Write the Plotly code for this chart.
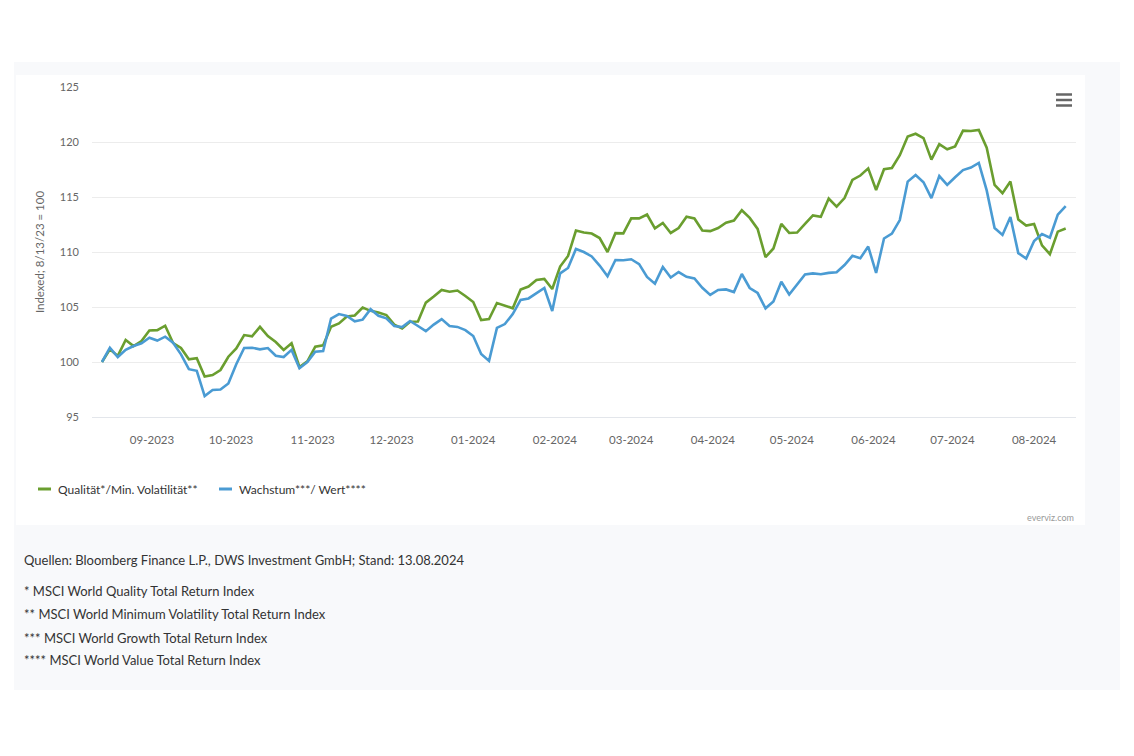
import plotly.graph_objects as go
import pandas as pd

# ---- data ----
dates = pd.date_range("2023-08-13", "2024-08-13", freq="3D")

quality_minvol = [
    100.0, 101.15, 100.55, 102.0, 101.45, 101.9, 102.86, 102.9, 103.3, 101.73,
    101.27, 100.25, 100.34, 98.68, 98.82, 99.27, 100.48, 101.23, 102.45, 102.34,
    103.2, 102.36, 101.82, 101.09, 101.7, 99.55, 100.06, 101.4, 101.52, 103.2,
    103.5, 104.13, 104.23, 104.95, 104.65, 104.5, 104.27, 103.4, 103.05, 103.66,
    103.68, 105.4, 105.95, 106.55, 106.39, 106.5, 106.0, 105.45, 103.82, 103.9,
    105.36, 105.12, 104.88, 106.59, 106.86, 107.45, 107.55, 106.64, 108.68, 109.64,
    111.95, 111.77, 111.68, 111.27, 110.0, 111.71, 111.69, 113.06, 113.06, 113.41,
    112.15, 112.64, 111.73, 112.18, 113.21, 113.05, 111.95, 111.9, 112.18, 112.66,
    112.86, 113.8, 113.1, 112.1, 109.53, 110.32, 112.55, 111.73, 111.77, 112.55,
    113.33, 113.21, 114.86, 114.12, 114.9, 116.55, 116.95, 117.6, 115.64, 117.52,
    117.64, 118.8, 120.5, 120.75, 120.36, 118.4, 119.8, 119.34, 119.6, 121.03,
    121.0, 121.1, 119.49, 116.1, 115.34, 116.4, 112.95, 112.4, 112.55, 110.6,
    109.8, 111.85, 112.14,
]

growth_value = [
    100.0, 101.3, 100.45, 101.1, 101.45, 101.7, 102.2, 101.95, 102.3, 101.75,
    100.7, 99.35, 99.2, 96.9, 97.45, 97.5, 98.05, 99.8, 101.27, 101.3,
    101.15, 101.27, 100.57, 100.45, 101.1, 99.43, 100.0, 100.94, 101.0, 103.95,
    104.36, 104.18, 103.7, 103.85, 104.8, 104.2, 103.97, 103.27, 103.18, 103.73,
    103.27, 102.8, 103.4, 103.9, 103.27, 103.19, 102.9, 102.36, 100.73, 100.1,
    103.1, 103.45, 104.36, 105.64, 105.78, 106.23, 106.73, 104.64, 108.06, 108.55,
    110.27, 110.0, 109.6, 108.77, 107.8, 109.27, 109.25, 109.34, 108.9, 107.73,
    107.12, 108.64, 107.68, 108.18, 107.75, 107.59, 106.75, 106.1, 106.55, 106.6,
    106.36, 108.0, 106.73, 106.27, 104.88, 105.5, 107.3, 106.14, 107.05, 107.95,
    108.06, 107.98, 108.1, 108.16, 108.82, 109.65, 109.43, 110.5, 108.1, 111.23,
    111.67, 112.9, 116.4, 117.0, 116.34, 114.9, 116.9, 116.1, 116.8, 117.45,
    117.68, 118.1, 115.6, 112.18, 111.55, 113.18, 109.9, 109.4, 111.0, 111.64,
    111.3, 113.4, 114.18,
]

series_names = ["Qualität*/Min. Volatilität**", "Wachstum***/ Wert****"]
series_colors = ["#6a9e2f", "#4a9bd3"]
y_title = "Indexed; 8/13/23 = 100"
footnotes = [
    "Quellen: Bloomberg Finance L.P., DWS Investment GmbH; Stand: 13.08.2024",
    "* MSCI World Quality Total Return Index",
    "** MSCI World Minimum Volatility Total Return Index",
    "*** MSCI World Growth Total Return Index",
    "**** MSCI World Value Total Return Index",
]
credit = "everviz.com"

# ---- layout geometry (pixels) ----
FIG_W, FIG_H = 1134, 756
L, R, T, B = 92, 1076, 87, 417
PW, PH = R - L, B - T
FONT = "Lato, Open Sans, sans-serif"


def px(x):
    return (x - L) / PW


def py(y):
    return (B - y) / PH


fig = go.Figure()
for name, vals, col in zip(series_names, [quality_minvol, growth_value], series_colors):
    fig.add_trace(go.Scatter(
        x=dates, y=vals, name=name, mode="lines",
        line=dict(color=col, width=2.6), showlegend=False,
    ))

shapes = [
    dict(type="rect", xref="paper", yref="paper", x0=px(14), x1=px(1120),
         y0=py(690), y1=py(62), fillcolor="#f8f9fb", line=dict(width=0), layer="below"),
    dict(type="rect", xref="paper", yref="paper", x0=px(16), x1=px(1085),
         y0=py(525), y1=py(75), fillcolor="#ffffff", line=dict(width=0), layer="below"),
]
# hamburger menu icon
for yy in (94.5, 100, 105.5):
    shapes.append(dict(type="line", xref="paper", yref="paper", x0=px(1056), x1=px(1072),
                       y0=py(yy), y1=py(yy), line=dict(color="#666666", width=2.5)))
# legend symbols
legend_pos = [(38, 56), (219, 237)]
for (sx, tx), col in zip(legend_pos, series_colors):
    shapes.append(dict(type="line", xref="paper", yref="paper", x0=px(sx), x1=px(sx + 13),
                       y0=py(489), y1=py(489), line=dict(color=col, width=3)))

annotations = []
for (sx, tx), name in zip(legend_pos, series_names):
    annotations.append(dict(text=name, xref="paper", yref="paper", x=px(tx), y=py(489),
                            xanchor="left", yanchor="middle", showarrow=False,
                            font=dict(family=FONT, size=12, color="#333333")))
annotations.append(dict(text=credit, xref="paper", yref="paper", x=px(1076), y=py(517),
                        xanchor="right", yanchor="middle", showarrow=False,
                        font=dict(family=FONT, size=9, color="#999999")))
foot_y = [560, 591, 614, 638, 660]
for txt, yy in zip(footnotes, foot_y):
    annotations.append(dict(text=txt, xref="paper", yref="paper", x=px(22), y=py(yy),
                            xanchor="left", yanchor="middle", showarrow=False,
                            font=dict(family=FONT, size=13, color="#333333")))

fig.update_layout(
    width=FIG_W, height=FIG_H,
    margin=dict(l=L, r=FIG_W - R, t=T, b=FIG_H - B, pad=0),
    paper_bgcolor="#ffffff", plot_bgcolor="#ffffff",
    font=dict(family=FONT, size=11, color="#666666"),
    shapes=shapes, annotations=annotations,
    showlegend=False,
    xaxis=dict(
        type="date", range=["2023-08-09 05:00", "2024-08-16 22:00"],
        tick0="2023-09-01", dtick="M1", tickformat="%m-%Y",
        showgrid=False, zeroline=False, showline=True, linecolor="#e3e6eb", linewidth=1,
        ticks="", ticklabelstandoff=12,
        tickfont=dict(family=FONT, size=11.5, color="#666666"),
    ),
    yaxis=dict(
        range=[95, 125], tickvals=[95, 100, 105, 110, 115, 120, 125],
        showgrid=True, gridcolor="#ececec", gridwidth=1, zeroline=False, showline=False,
        ticks="", ticklabelstandoff=12,
        tickfont=dict(family=FONT, size=11, color="#666666"),
        title=dict(text=y_title, standoff=12, font=dict(family=FONT, size=11.5, color="#666666")),
    ),
)

fig.write_html("out.html")
